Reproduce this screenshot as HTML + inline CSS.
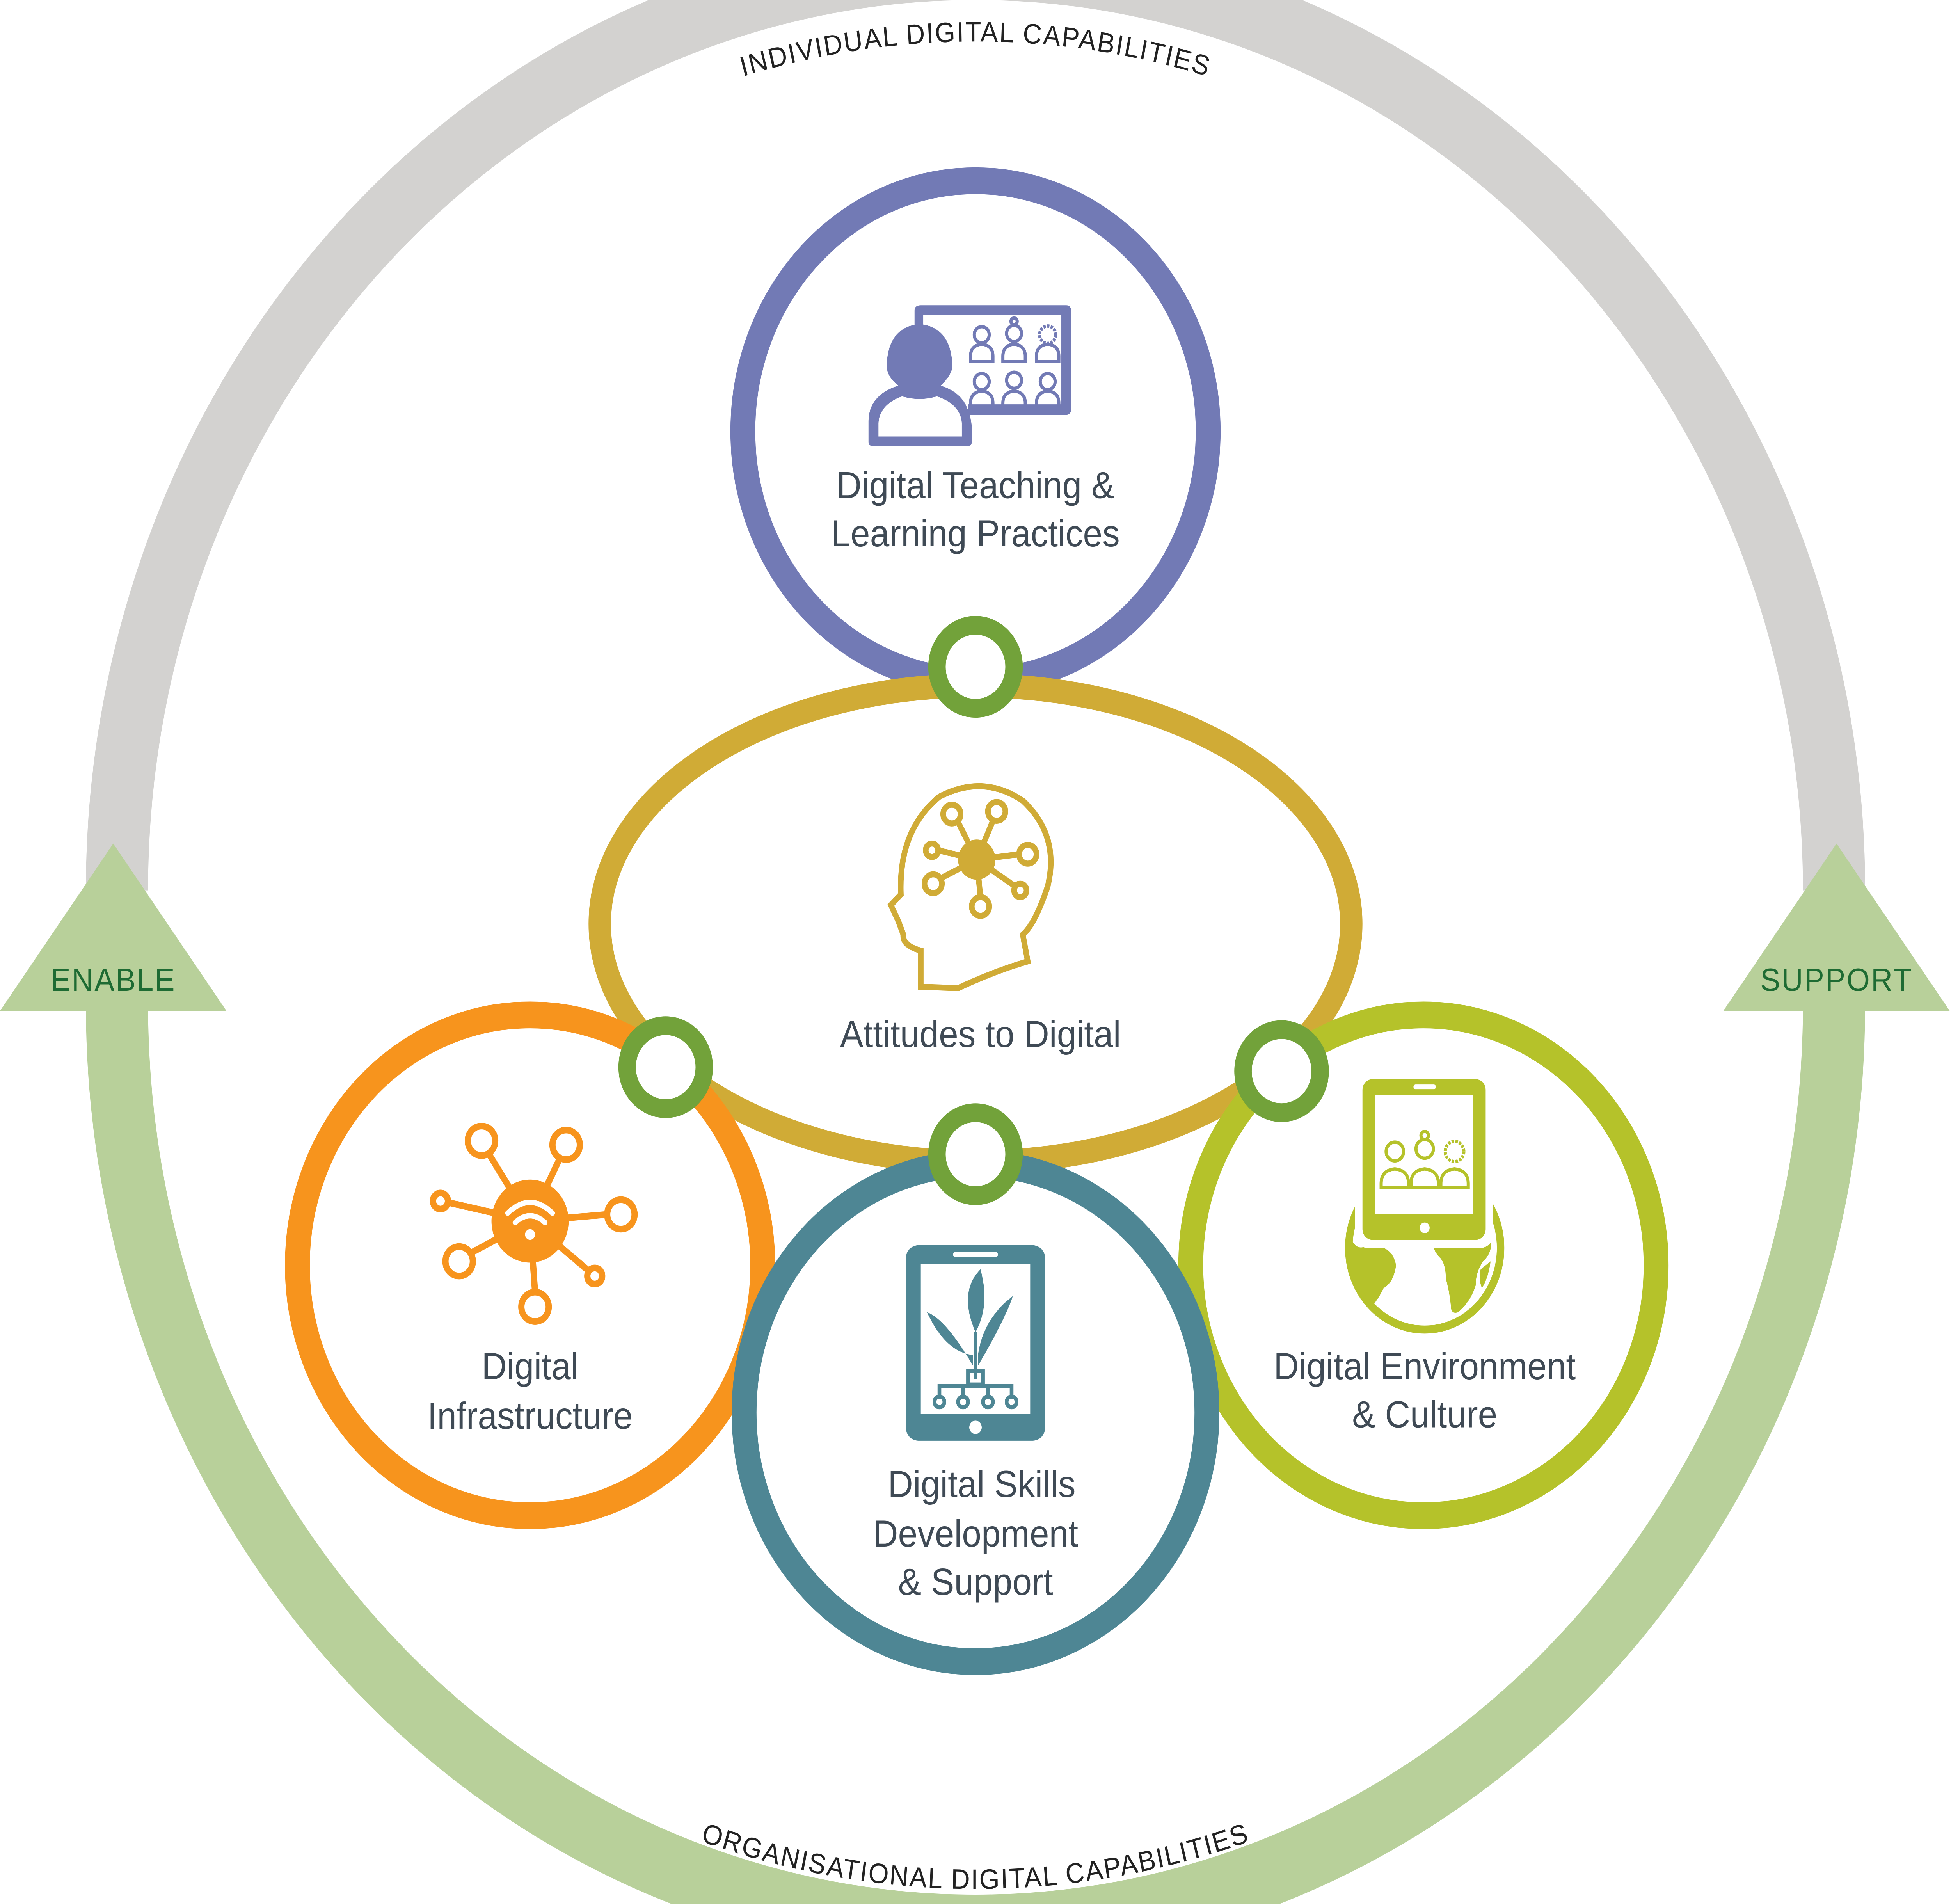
<!DOCTYPE html>
<html><head><meta charset="utf-8"><style>html,body{margin:0;padding:0;background:#fff;width:100%;height:100%;overflow:hidden}svg{display:block;width:100vw;height:100vh}</style></head>
<body>
<svg viewBox="0 0 1568 1422" preserveAspectRatio="none" xmlns="http://www.w3.org/2000/svg" font-family="Liberation Sans, sans-serif">
<defs>
<path id="topArc" d="M 104 711 A 680 680 0 0 1 1464 711"/>
<path id="botArc" d="M 84 711 A 700 700 0 0 0 1484 711"/>
</defs>
<path d="M 94 665 A 690 690 0 0 1 1474 665" fill="none" stroke="#d3d2d0" stroke-width="50"/>
<path d="M 94 750 A 690 690 0 0 0 1474 750" fill="none" stroke="#b8d09a" stroke-width="50"/>
<polygon points="91,630 0,755 182,755" fill="#b8d09a"/>
<polygon points="1476,630 1385,755 1567,755" fill="#b8d09a"/>
<text x="91" y="740" font-size="24" fill="#1e6b33" text-anchor="middle" letter-spacing="1">ENABLE</text>
<text x="1476" y="740" font-size="24" fill="#1e6b33" text-anchor="middle" letter-spacing="1">SUPPORT</text>
<text font-size="21" fill="#222" letter-spacing="1"><textPath href="#topArc" startOffset="50%" text-anchor="middle">INDIVIDUAL DIGITAL CAPABILITIES</textPath></text>
<text font-size="21" fill="#222" letter-spacing="1"><textPath href="#botArc" startOffset="50%" text-anchor="middle">ORGANISATIONAL  DIGITAL CAPABILITIES</textPath></text>

<circle cx="784" cy="322" r="187" fill="none" stroke="#727ab5" stroke-width="20"/>
<ellipse cx="784" cy="690" rx="302" ry="178" fill="none" stroke="#d0ab36" stroke-width="18"/>
<circle cx="426" cy="945" r="187" fill="none" stroke="#f7941d" stroke-width="20"/>
<circle cx="1144" cy="945" r="187" fill="none" stroke="#b5c22a" stroke-width="20"/>
<circle cx="784" cy="1055" r="186" fill="none" stroke="#4e8694" stroke-width="20"/>

<g fill="#fff" stroke="#72a23a" stroke-width="14">
<circle cx="784" cy="498" r="31"/>
<circle cx="535" cy="797" r="31"/>
<circle cx="784" cy="862" r="31"/>
<circle cx="1030" cy="800" r="31"/>
</g>

<g font-size="28" fill="#3f4a55" text-anchor="middle">
<text x="784" y="372">Digital Teaching &amp;</text>
<text x="784" y="408">Learning Practices</text>
<text x="788" y="782">Attitudes to Digital</text>
<text x="426" y="1030">Digital</text>
<text x="426" y="1067">Infrastructure</text>
<text x="789" y="1118">Digital Skills</text>
<text x="784" y="1155">Development</text>
<text x="784" y="1191">&amp; Support</text>
<text x="1145" y="1030">Digital Environment</text>
<text x="1145" y="1066">&amp; Culture</text>
</g>

<!-- purple icon -->
<path d="M735 260 L735 232 Q735 228 740 228 L857 228 Q861 228 861 233 L861 305 Q861 310 856 310 L778 310 L778 302 L853 302 L853 235 L742 235 L742 258 Z" fill="#727ab5"/>
<path d="M713 268 Q716 244 739 242 Q762 244 765 268 L765 276 Q763 282 756 288 Q770 292 776 302 Q781 312 781 320 L781 330 Q781 333 778 333 L701 333 Q698 333 698 330 L698 315 Q698 295 722 288 Q714 282 713 276 Z" fill="#727ab5"/>
<path d="M706 326 L706 316 Q707 302 725 296 Q739 300 753 296 Q772 302 773 316 L773 326 Z" fill="#fff"/>
<g fill="none" stroke="#727ab5" stroke-width="2.5">
<circle cx="789" cy="250" r="6"/><path d="M780 266 q0-8 9-9 q9 1 9 9 v4 h-18 z"/>
<circle cx="815" cy="249" r="6"/><path d="M806 266 q0-8 9-9 q9 1 9 9 v4 h-18 z"/><circle cx="815" cy="240" r="2.5"/>
<circle cx="842" cy="250" r="6.5" stroke-dasharray="2 1"/><path d="M833 266 q0-8 9-9 q9 1 9 9 v4 h-18 z"/>
<circle cx="789" cy="285" r="6"/><path d="M780 301 q0-8 9-9 q9 1 9 9 v4 h-18 z"/>
<circle cx="815" cy="284" r="6"/><path d="M806 301 q0-8 9-9 q9 1 9 9 v4 h-18 z"/>
<circle cx="842" cy="285" r="6"/><path d="M833 301 q0-8 9-9 q9 1 9 9 v4 h-18 z"/>
</g>

<!-- gold head -->
<g fill="none" stroke="#d0ab36" stroke-width="4.5">
<path d="M740 737 L740 710 Q725 706 726 698 L722 688 L716 676 L724 668 Q722 620 755 595 Q790 578 822 598 Q852 624 842 662 Q832 690 822 698 L826 718 Q800 725 770 738 Z"/>
<circle cx="765" cy="608" r="7"/><circle cx="801" cy="606" r="7"/><circle cx="826" cy="638" r="7"/>
<circle cx="749" cy="635" r="5"/><circle cx="750" cy="660" r="7"/><circle cx="788" cy="677" r="7"/><circle cx="820" cy="665" r="5"/>
<path d="M785 642 L770 614 M785 642 L798 613 M785 642 L819 638 M785 642 L754 635 M785 642 L756 656 M785 642 L788 670 M785 642 L816 662"/>
</g>
<circle cx="785" cy="642" r="15" fill="#d0ab36"/>

<!-- orange hub -->
<g fill="none" stroke="#f7941d" stroke-width="5">
<circle cx="387" cy="852" r="11"/><circle cx="455" cy="855" r="11"/><circle cx="354" cy="897" r="6"/>
<circle cx="499" cy="907" r="11"/><circle cx="369" cy="942" r="11"/><circle cx="478" cy="953" r="6"/><circle cx="430" cy="976" r="11"/>
<path d="M426 912 L393 862 M426 912 L450 865 M426 912 L360 898 M426 912 L488 907 M426 912 L378 936 M426 912 L473 949 M426 912 L430 965"/>
</g>
<circle cx="426" cy="912" r="31" fill="#f7941d"/>
<g fill="none" stroke="#fff" stroke-width="4" stroke-linecap="round">
<path d="M408 906 q18-16 36 0"/><path d="M414 913 q12-10 24 0"/>
</g>
<circle cx="426" cy="922" r="4" fill="#fff"/>

<!-- teal tablet -->
<rect x="728" y="930" width="112" height="146" rx="10" fill="#4e8694"/>
<rect x="740" y="944" width="88" height="112" fill="#fff"/>
<rect x="766" y="935" width="36" height="4" rx="2" fill="#fff"/>
<circle cx="784" cy="1066" r="5" fill="#fff"/>
<g fill="#4e8694">
<path d="M782 1020 Q760 985 745 980 Q760 1010 782 1012Z"/>
<path d="M786 1020 Q808 985 814 968 Q790 985 786 1012Z"/>
<path d="M784 995 Q770 965 788 948 Q796 975 784 995Z"/>
</g>
<g fill="none" stroke="#4e8694" stroke-width="3">
<path d="M784 995 L784 1030 M755 1045 L755 1035 L813 1035 L813 1045 M774 1045 L774 1035 M794 1045 L794 1035"/>
<rect x="778" y="1024" width="12" height="10"/>
<circle cx="755" cy="1047" r="4"/><circle cx="774" cy="1047" r="4"/><circle cx="794" cy="1047" r="4"/><circle cx="813" cy="1047" r="4"/>
</g>

<!-- lime globe + tablet -->
<circle cx="1145" cy="932" r="61" fill="none" stroke="#b5c22a" stroke-width="6"/>
<g fill="#b5c22a">
<path d="M1086 925 Q1090 935 1100 930 Q1108 928 1112 932 Q1120 935 1122 945 Q1120 958 1112 962 Q1108 970 1103 975 Q1095 965 1090 955 Q1086 940 1086 925Z"/>
<path d="M1150 925 L1198 925 Q1200 935 1192 942 Q1186 950 1186 960 Q1182 972 1172 980 Q1166 982 1166 975 Q1165 965 1162 955 Q1162 945 1158 940 Q1152 935 1150 925Z"/>
<path d="M1198 942 Q1196 955 1191 962 Q1188 955 1190 948Z"/>
</g>
<rect x="1089" y="800" width="111" height="132" rx="10" fill="#fff"/>
<rect x="1095" y="806" width="99" height="120" rx="8" fill="#b5c22a"/>
<rect x="1105" y="818" width="79" height="89" fill="#fff"/>
<rect x="1136" y="810" width="18" height="3.5" rx="1.7" fill="#fff"/>
<circle cx="1145" cy="917" r="4" fill="#fff"/>
<g fill="none" stroke="#b5c22a" stroke-width="2.5">
<circle cx="1121" cy="860" r="7"/><path d="M1110 884 q0-10 11-11 q11 1 11 11 v3 h-22 z"/>
<circle cx="1145" cy="858" r="7"/><circle cx="1145" cy="848" r="3"/><path d="M1134 884 q0-10 11-11 q11 1 11 11 v3 h-22 z"/>
<circle cx="1169" cy="860" r="7.5" stroke-dasharray="2 1"/><path d="M1158 884 q0-10 11-11 q11 1 11 11 v3 h-22 z"/>
</g>
</svg>
</body></html>
